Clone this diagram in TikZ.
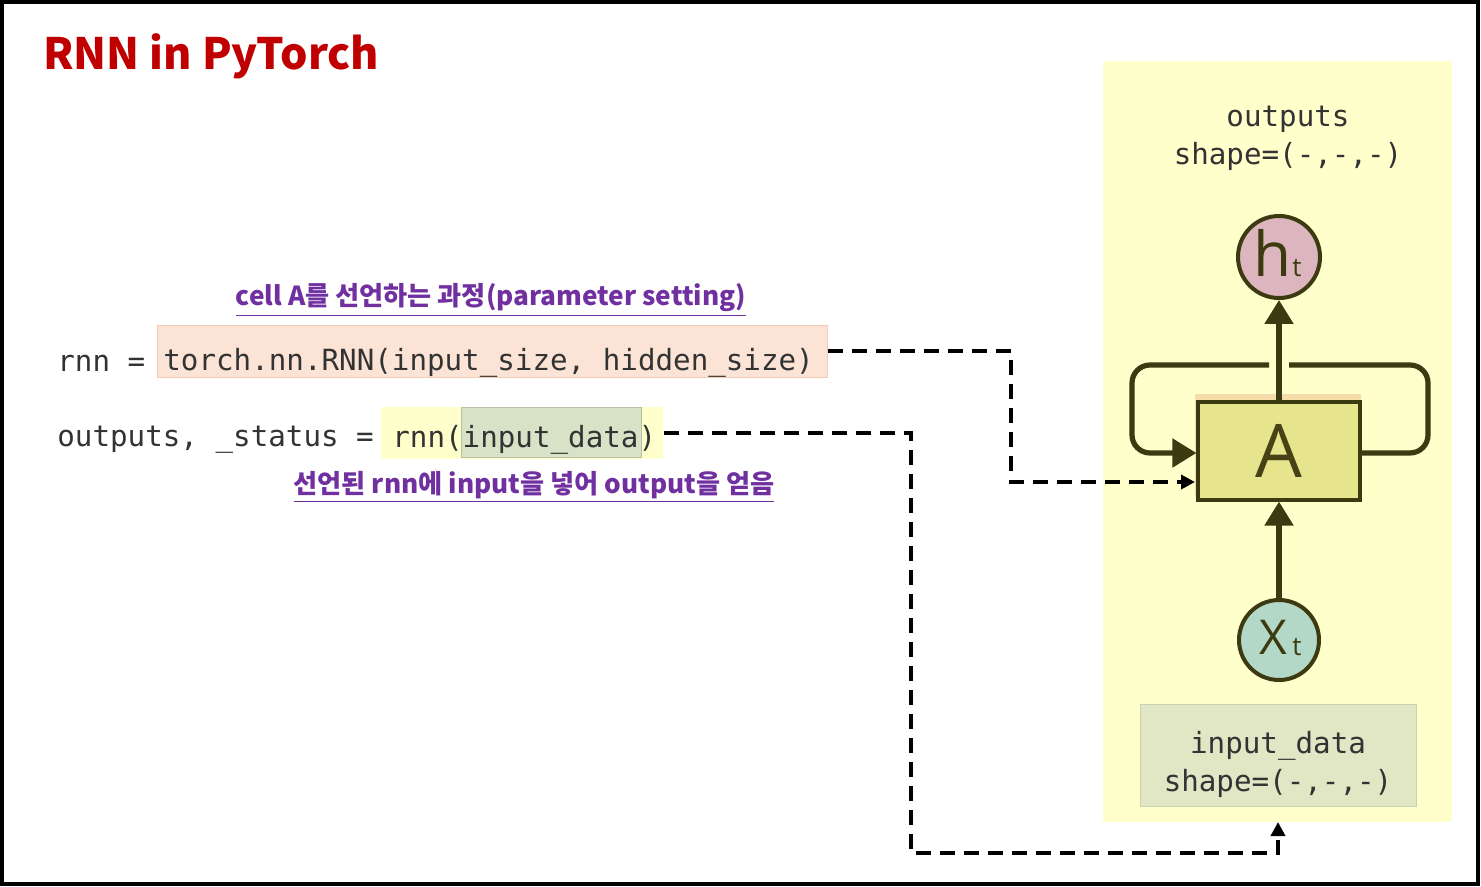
\documentclass[tikz,border=0pt]{standalone}
\usepackage{fontspec}
\usetikzlibrary{arrows.meta,positioning}
\newfontfamily\krfont{Noto Sans CJK KR}
\newfontfamily\codefont{DejaVu Sans Mono}
\newfontfamily\cellfont{Open Sans}
\newcommand{\us}{\char`\_}
\definecolor{titlered}{HTML}{C00000}
\definecolor{labelpurple}{HTML}{7030A0}
\definecolor{codegray}{HTML}{333333}
\definecolor{panelyellow}{HTML}{FFFFCC}
\definecolor{olive}{HTML}{3B3A10}
\definecolor{hfill}{HTML}{DDB5BF}
\definecolor{xfill}{HTML}{B4D8C7}
\definecolor{afill}{HTML}{E5E58A}
\definecolor{aglow}{HTML}{F6DCA8}
\definecolor{datafill}{HTML}{E1E6C5}
\definecolor{dataline}{HTML}{C8D2B2}
\definecolor{peach}{HTML}{FBE4D6}
\definecolor{peachline}{HTML}{F3CBB4}
\definecolor{sage}{HTML}{D8E2C6}
\definecolor{sageline}{HTML}{B6C2A8}
\tikzset{
  code/.style={font=\codefont\fontsize{14.6}{19}\selectfont, text=codegray, inner sep=0pt, anchor=west},
  note/.style={font=\krfont\bfseries\fontsize{13.1}{15}\selectfont, text=labelpurple, inner sep=0pt},
  flow/.style={line width=2.6pt, draw=olive},
  ctl/.style={line width=2pt, dash pattern=on 7.5pt off 4.5pt, draw=black},
  bubble/.style={circle, draw=olive, line width=2pt, minimum size=41pt, inner sep=0pt},
}
\begin{document}
\begin{tikzpicture}[x=0.5pt, y=-0.5pt]
\useasboundingbox (0,0) rectangle (1481,887);
% outer frame
\draw[line width=2pt] (2,2) rectangle (1478,884);
% title
\node[font=\krfont\bfseries\fontsize{21.6}{26}\selectfont, text=titlered, anchor=west, inner sep=0pt] (title) at (43,56) {RNN in PyTorch};

% cell panel
\fill[panelyellow] (1103,61) rectangle (1452,822);
\node[code, anchor=center, align=center] (outs) at (1288,138) {outputs\\shape=(-,-,-)};
\node[bubble, fill=hfill] (h) at (1279,257) {};
\node[font=\cellfont\fontsize{31}{31}\selectfont, text=olive, inner sep=0pt] at (1273,253) {h};
\node[font=\cellfont\fontsize{13}{13}\selectfont, text=olive, inner sep=0pt] at (1297,268) {t};
\fill[aglow] (1195,394) rectangle (1361,497);
\node[draw=olive, line width=1.6pt, fill=afill, fill opacity=0.9, text opacity=1, minimum width=81pt, minimum height=49pt, inner sep=0pt, font=\cellfont\fontsize{37}{37}\selectfont, text=olive!90!brown] (A) at (1279,451) {A};
\node[bubble, fill=xfill, minimum size=40pt] (x) at (1279,640) {};
\node[font=\cellfont\fontsize{24}{24}\selectfont, text=olive, inner sep=0pt] at (1273,637) {X};
\node[font=\cellfont\fontsize{13}{13}\selectfont, text=olive, inner sep=0pt] at (1297,647) {t};
\node[draw=dataline, fill=datafill, minimum width=138pt, minimum height=51pt, inner sep=0pt] (data) at (1278,755) {};
\node[code, anchor=center, align=center] (dataText) at (1278,764) {input\us data\\shape=(-,-,-)};

% flow inside the cell
\draw[flow, -{Triangle[length=12pt,width=14pt]}] (A.north) -- (h.south);
\draw[flow, -{Triangle[length=12pt,width=14pt]}] (x.north) -- (A.south);
\draw[flow, rounded corners=9pt] (A.east |- 0,453) -- (1428,453) -- (1428,365) -- (1289,365);
\draw[flow, rounded corners=9pt, -{Triangle[length=12pt,width=14pt]}] (1269,365) -- (1132,365) -- (1132,453) -- (A.west |- 0,453);

% code lines
\node[code] (rnn) at (57,363) {rnn =};
\node[draw=peachline, fill=peach, minimum width=335pt, minimum height=26pt, inner sep=0pt, anchor=west] (decl) at (157,351) {};
\node[code] at (163,363) {torch.nn.RNN(input\us size, hidden\us size)};
\node[code] (outvar) at (57,440) {outputs, \us status =};
\node[fill=panelyellow, minimum width=141pt, minimum height=26pt, inner sep=0pt, anchor=west] (call) at (381,433) {};
\node[draw=sageline, fill=sage, minimum width=90pt, minimum height=25pt, inner sep=0pt, anchor=west] (arg) at (461,432) {};
\node[code] at (392,440) {rnn(input\us data)};

% notes
\node[note] (noteA) at (491,300) {\underline{cell A를 선언하는 과정(parameter setting)}};
\node[note] (noteB) at (534,487) {\underline{선언된 rnn에 input을 넣어 output을 얻음}};

% dashed links from code to the cell
\coordinate (aIn) at (1195,482);
\coordinate (dIn) at (1278,822);
\draw[ctl, -{Triangle[length=7pt,width=7pt]}] (decl.east) -- (1011,351) -- (1011,482) -- (aIn);
\draw[ctl, -{Triangle[length=7pt,width=7pt]}] (call.east) -- (911,433) -- (911,853) -- (1278,853) -- (dIn);
\end{tikzpicture}
\end{document}
